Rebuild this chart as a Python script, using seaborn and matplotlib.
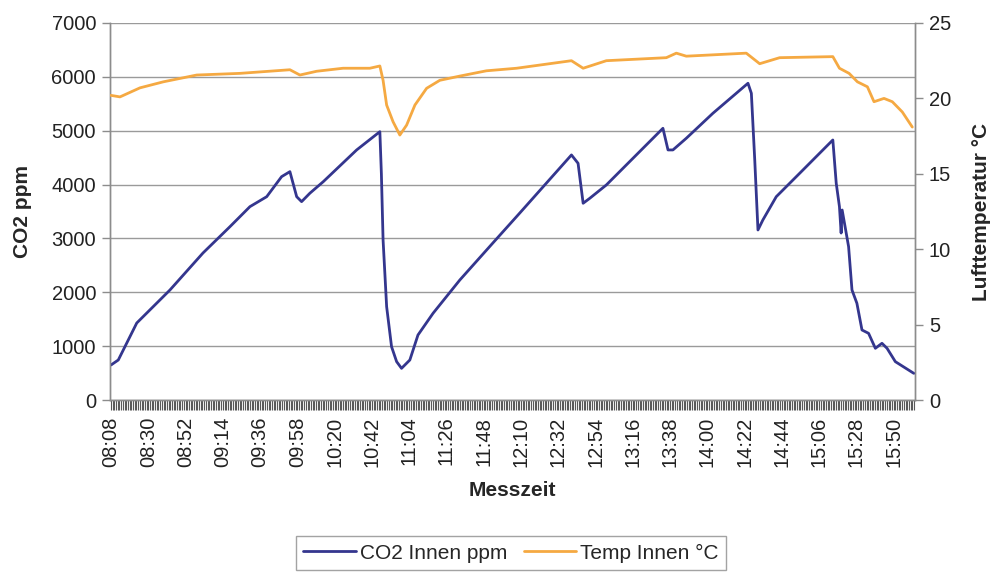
import numpy as np
import pandas as pd
import matplotlib
matplotlib.use("Agg")
import matplotlib.pyplot as plt
import seaborn as sns
from matplotlib.lines import Line2D

# ---- data (minutes after 08:08) ----
co2_min = [0, 4.3, 15.2, 34.8, 54.3, 70.2, 82, 91.9, 100.7, 105.6, 109.6, 112.5, 117.4, 125.3,
           145, 158.7, 159.6, 160.6, 162.7, 165.6, 168.6, 171.5, 176.4, 181.2, 190.1, 205.9,
           225.4, 241.3,
           271.8, 275.7, 278.7, 282.6, 292.4, 325.8, 328.8, 331.7, 339.6, 355.3, 376, 378,
           380, 381.9, 384.8, 392.7, 406.5, 426.1, 428.1, 430, 431, 431.6, 435.4, 437.4,
           440.3, 443.3, 447.2, 451.2, 455.1, 458.1, 463, 473.9]
co2_ppm = [650, 743, 1430, 2043, 2730, 3218, 3590, 3775, 4147, 4240, 3775, 3683, 3840, 4054,
           4643, 4982, 4200, 2971, 1733, 990, 712, 588, 743, 1207, 1610, 2228,
           2915, 3472,
           4550, 4395, 3653, 3745, 3993, 5045, 4643, 4643, 4860, 5324, 5881, 5695,
           4457, 3157, 3343, 3775, 4209, 4828, 4024, 3590, 3100, 3528, 2847, 2043,
           1796, 1300, 1238, 960, 1053, 960, 712, 495]

temp_min = [0, 5.3, 17.1, 30.9, 50.6, 76.1, 105.6, 111.5, 121.4, 137, 152.8, 158.7, 160.6,
            162.7, 166.5, 170.5, 174.5, 179.4, 186.3, 194.1, 205.9, 221.6, 239.4,
            271.8, 278.7, 292.4,
            327.8, 333.7, 339.6, 375, 382.9, 394.7, 426.1, 430, 435.7, 440.6, 446.5, 450.4,
            456.3, 461.2, 467.1, 473]
temp_c = [20.2, 20.1, 20.7, 21.1, 21.55, 21.66, 21.9, 21.55, 21.8, 22.0, 22.0, 22.15, 21.2,
          19.56, 18.45, 17.57, 18.23, 19.56, 20.67, 21.2, 21.48, 21.83, 22.0,
          22.5, 22.0, 22.5,
          22.7, 23.0, 22.8, 23.0, 22.3, 22.7, 22.77, 22.0, 21.66, 21.1, 20.77, 19.78,
          20.0, 19.78, 19.1, 18.1]

tick_labels = ["08:08", "08:30", "08:52", "09:14", "09:36", "09:58", "10:20", "10:42",
               "11:04", "11:26", "11:48", "12:10", "12:32", "12:54", "13:16", "13:38",
               "14:00", "14:22", "14:44", "15:06", "15:28", "15:50"]
tick_step = 22
n_points = 475

co2_color = "#34368E"
temp_color = "#F5A942"

sns.set_style("white")
plt.rcParams["font.family"] = ["Liberation Sans", "DejaVu Sans"]

fig = plt.figure(figsize=(9.92, 5.72), dpi=100)
ax = fig.add_axes([110/992, 1-400/572, (915-110)/992, (400-23)/572])
ax2 = ax.twinx()

co2_df = pd.DataFrame({"min": co2_min, "ppm": co2_ppm})
temp_df = pd.DataFrame({"min": temp_min, "c": temp_c})

sns.lineplot(data=co2_df, x="min", y="ppm", ax=ax, color=co2_color, lw=2.0, zorder=3)
sns.lineplot(data=temp_df, x="min", y="c", ax=ax2, color=temp_color, lw=2.0, zorder=3)

ax.set_xlim(-0.6, 474.6)
ax.set_ylim(0, 7000)
ax2.set_ylim(0, 25)
ax.set_yticks(np.arange(0, 7001, 1000))
ax2.set_yticks(np.arange(0, 26, 5))

ax.set_xticks(np.arange(len(tick_labels)) * tick_step)
ax.set_xticklabels(tick_labels, rotation=90)
ax.set_xticks(np.arange(n_points), minor=True)

ax.grid(axis="y", color="#9a9a9a", lw=1.0)
ax.set_axisbelow(True)

for a in (ax, ax2):
    for s in a.spines.values():
        s.set_color("#8c8c8c")
        s.set_linewidth(1.0)
    a.spines["top"].set_visible(False)

ax.tick_params(axis="y", which="major", direction="out", length=6, width=1, color="#8c8c8c",
               labelsize=14.5, labelcolor="#222222", pad=4, left=True)
ax2.tick_params(axis="y", which="major", direction="out", length=6, width=1, color="#8c8c8c",
                labelsize=14.5, labelcolor="#222222", pad=4, right=True)
ax.tick_params(axis="x", which="major", direction="out", length=7, width=0.8, color="#555555",
               labelsize=14.5, labelcolor="#222222", pad=5, bottom=True)
ax.tick_params(axis="x", which="minor", direction="out", length=7, width=0.8, color="#5a5a5a",
               bottom=True)

ax.set_xlabel("Messzeit", fontsize=15, fontweight="bold")
ax.xaxis.set_label_coords(0.5, -0.215)
ax.set_ylabel("CO2 ppm", fontsize=15, fontweight="bold")
ax.yaxis.set_label_coords(-0.097, 0.5)
ax2.set_ylabel("Lufttemperatur °C", fontsize=15, fontweight="bold")
ax2.yaxis.set_label_coords(1.071, 0.5)

handles = [Line2D([0], [0], color=co2_color, lw=2), Line2D([0], [0], color=temp_color, lw=2)]
leg = fig.legend(handles, ["CO2 Innen ppm", "Temp Innen °C"], ncol=2, loc="center",
                 bbox_to_anchor=(511/992, 1-553/572), frameon=True, fancybox=False,
                 fontsize=15, handlelength=2.5, columnspacing=0.8, handletextpad=0.2,
                 borderpad=0.35)
leg.get_frame().set_edgecolor("#8c8c8c")
leg.get_frame().set_linewidth(1.0)

fig.savefig("out.png", dpi=100)
